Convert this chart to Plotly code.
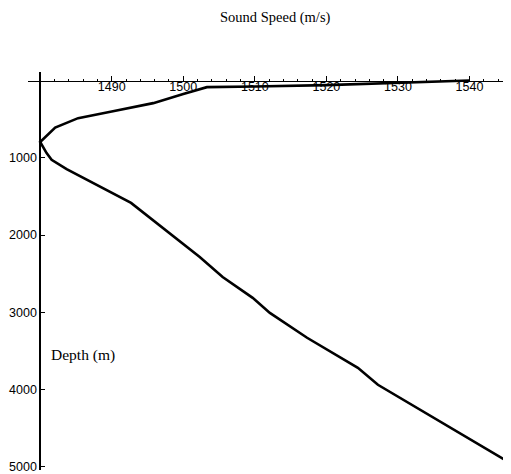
import plotly.graph_objects as go

# Sound speed profile (m/s) vs depth (m)
speed = [1540, 1530, 1520, 1510, 1503.3, 1500, 1495.8, 1490, 1485.3, 1482.1,
         1480, 1480.9, 1481.6, 1483.7, 1492.7, 1502.3, 1505.5, 1509.7, 1512.1,
         1517.3, 1524.4, 1527.2, 1544.9]
depth = [0, 34, 60, 77, 86, 176, 293, 400, 487, 608,
         795, 940, 1026, 1146, 1584, 2283, 2542, 2813, 3007,
         3329, 3717, 3937, 4907]

x_ticks = [1490, 1500, 1510, 1520, 1530, 1540]
y_ticks = [1000, 2000, 3000, 4000, 5000]

x_range = [1478.3, 1545.8]
y_range = [5040, -110]

fig = go.Figure()
fig.add_trace(go.Scatter(x=speed, y=depth, mode="lines",
                         line=dict(color="black", width=2.6), showlegend=False))

x_axis_pos = (y_range[0] - 0) / (y_range[0] - y_range[1])
y_axis_pos = (1480 - x_range[0]) / (x_range[1] - x_range[0])

# page body has an 8px default margin; compensate in the figure margins
fig.update_layout(
    width=511, height=474,
    margin=dict(l=20, r=8, t=64, b=12, autoexpand=False),
    paper_bgcolor="white", plot_bgcolor="white",
    xaxis=dict(
        range=x_range, side="top", anchor="free", position=x_axis_pos,
        automargin=False,
        showgrid=False, zeroline=False,
        showline=True, linecolor="black", linewidth=1,
        tickmode="array", tickvals=x_ticks, ticktext=[str(v) for v in x_ticks],
        ticks="outside", ticklen=5, tickcolor="black", tickwidth=1,
        ticklabelposition="inside",
        minor=dict(dtick=2, ticks="outside", ticklen=2, tickcolor="black"),
        tickfont=dict(family="Liberation Sans, Arial", size=12.5, color="black"),
    ),
    yaxis=dict(
        range=y_range, anchor="free", position=y_axis_pos,
        automargin=False,
        showgrid=False, zeroline=False,
        showline=True, linecolor="black", linewidth=1.5,
        tickmode="array", tickvals=y_ticks, ticktext=[str(v) for v in y_ticks],
        ticks="inside", ticklen=4, tickcolor="black", tickwidth=1,
        tickfont=dict(family="Liberation Sans, Arial", size=12.5, color="black"),
    ),
    annotations=[
        dict(text="Sound Speed (m/s)", xref="paper", yref="paper",
             x=(275 - 28) / 483, y=1 + (72 - 17) / 398,
             xanchor="center", yanchor="middle", showarrow=False,
             font=dict(family="Liberation Serif, Times New Roman", size=14.5, color="black")),
        dict(text="Depth (m)", xref="x", yref="y", x=1481.3, y=3548,
             xanchor="left", yanchor="middle", showarrow=False,
             font=dict(family="Liberation Serif, Times New Roman", size=15.5, color="black")),
    ],
)

fig.write_html("out.html")
